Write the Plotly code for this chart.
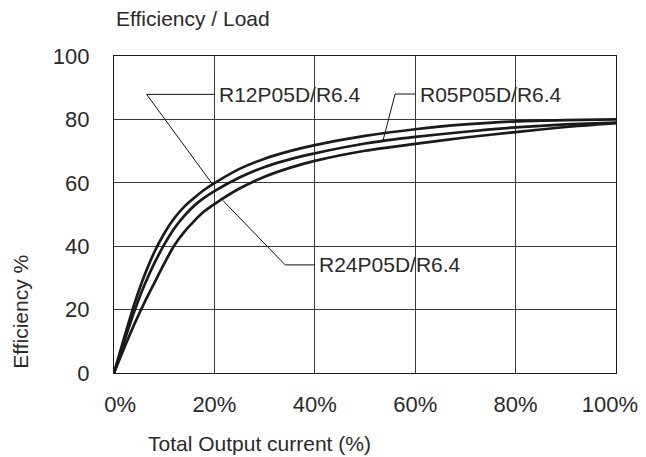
import plotly.graph_objects as go

# Data (x: % of total output current, y: efficiency %)
load_pct = [0, 2, 4, 6, 8, 10, 12, 14, 16, 18, 20, 25, 30, 35, 40, 50, 60, 70, 80, 90, 100]
eff_r12 = [0, 11, 21.5, 30.5, 38, 44, 48.8, 52.5, 55.3, 57.8, 59.9, 64.4, 67.6, 70, 71.9, 74.8, 76.9, 78.4, 79.4, 79.8, 80]
eff_r05 = [0, 9.8, 19.2, 27.5, 34.5, 40.5, 45.6, 49.6, 52.8, 55.3, 57.4, 61.7, 65, 67.4, 69.3, 72.4, 74.5, 76.1, 77.5, 78.4, 79]
eff_r24 = [0, 7.8, 15.2, 22, 28.3, 34.5, 40.2, 44.5, 48, 51, 53.3, 58.2, 61.9, 64.7, 66.9, 70.1, 72.3, 74.3, 76, 77.6, 78.8]

series_names = ["R12P05D/R6.4", "R05P05D/R6.4", "R24P05D/R6.4"]

# Label leader geometry (data units): target point on curve, elbow, end of horizontal, text start
leader_target = [(19.6, 59.6), (53.6, 73.4), (21.7, 54.4)]
leader_elbow = [(6.5, 87.9), (56.0, 88.0), (34.1, 34.1)]
leader_end = [(20.0, 87.9), (60.0, 88.0), (40.0, 34.1)]
label_start = [(20.6, 87.9), (60.6, 88.0), (40.4, 34.1)]

x_ticks = [0, 20, 40, 60, 80, 100]
x_ticktext = ["\u00a0\u00a00%", "20%", "40%", "60%", "80%", "100%\u00a0\u00a0"]
y_ticks = [0, 20, 40, 60, 80, 100]

title_text = "Efficiency / Load"
x_title = "Total Output current (%)"
y_title = "Efficiency %"

FONT = "Liberation Sans, Arial, sans-serif"
TXT = "#2a2a2a"

fig = go.Figure()

for ys, nm in [(eff_r12, series_names[0]), (eff_r05, series_names[1]), (eff_r24, series_names[2])]:
    fig.add_trace(go.Scatter(x=load_pct, y=ys, mode="lines", name=nm,
                             line=dict(color="#1a1a1a", width=2.7, shape="spline", smoothing=0.6),
                             showlegend=False, hoverinfo="skip"))

for tgt, elb, end, lab, nm in zip(leader_target, leader_elbow, leader_end, label_start, series_names):
    fig.add_trace(go.Scatter(x=[tgt[0], elb[0], end[0]], y=[tgt[1], elb[1], end[1]],
                             mode="lines", line=dict(color="#111", width=1),
                             showlegend=False, hoverinfo="skip"))
    fig.add_annotation(x=lab[0], y=lab[1], xref="x", yref="y", text=nm,
                       showarrow=False, xanchor="left", yanchor="middle",
                       font=dict(family=FONT, size=21, color=TXT))

fig.add_annotation(x=0, y=1.118, xref="paper", yref="paper", text=title_text,
                   showarrow=False, xanchor="left", yanchor="middle",
                   font=dict(family=FONT, size=21, color=TXT))
fig.add_annotation(x=0.289, y=-0.221, xref="paper", yref="paper", text=x_title,
                   showarrow=False, xanchor="center", yanchor="middle",
                   font=dict(family=FONT, size=21, color=TXT))
fig.add_annotation(x=-0.186, y=0.192, xref="paper", yref="paper", text=y_title,
                   showarrow=False, xanchor="center", yanchor="middle", textangle=-90,
                   borderpad=0,
                   font=dict(family=FONT, size=21, color=TXT))

fig.update_xaxes(range=[0, 100], tickvals=x_ticks, ticktext=x_ticktext,
                 showgrid=True, gridcolor="#3a3a3a", gridwidth=1,
                 showline=True, linecolor="#1a1a1a", linewidth=1.2, mirror=True,
                 zeroline=False, ticks="", ticklabelstandoff=11, automargin=False,
                 ticklabeloverflow="allow",
                 tickfont=dict(family=FONT, size=22, color=TXT))
fig.update_yaxes(range=[0, 100], tickvals=y_ticks,
                 showgrid=True, gridcolor="#3a3a3a", gridwidth=1,
                 showline=True, linecolor="#1a1a1a", linewidth=1.2, mirror=True,
                 zeroline=False, ticks="", ticklabelstandoff=19, automargin=False,
                 ticklabeloverflow="allow",
                 tickfont=dict(family=FONT, size=22, color=TXT))

# the page body adds an 8px margin, so the figure is sized to fit the window
fig.update_layout(width=638, height=449,
                  margin=dict(l=106, r=30, t=48, b=84),
                  paper_bgcolor="white", plot_bgcolor="white",
                  font=dict(family=FONT, color=TXT))

fig.write_html("out.html")
